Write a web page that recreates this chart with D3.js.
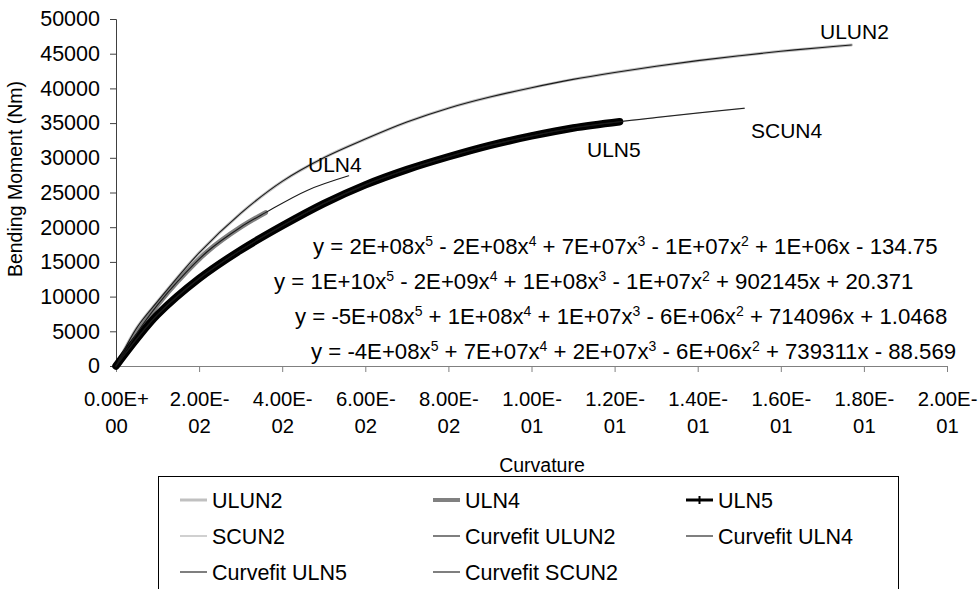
<!DOCTYPE html>
<html>
<head>
<meta charset="utf-8">
<script src="https://cdn.jsdelivr.net/npm/d3@7"></script>
<style>
  body { margin: 0; background: #fff; }
  svg { font-family: "Liberation Sans", Arial, sans-serif; }
</style>
</head>
<body>
<div id="chart"></div>
<script>
//------------------------DATA------------------------//
// [curvature, bending moment]
const ulun2Data = [[0,0],[0.005,5500],[0.01,9300],[0.02,16300],[0.03,22000],[0.04,26600],[0.05,30000],
  [0.06,32700],[0.07,35150],[0.08,37150],[0.09,38750],[0.10,40100],[0.11,41300],[0.12,42300],
  [0.13,43200],[0.14,44000],[0.15,44700],[0.16,45350],[0.17,45900],[0.177,46250]];
const ulun2Fit = ulun2Data;
const uln4Data = [[0,0],[0.005,4700],[0.01,8800],[0.015,12300],[0.022,16500],[0.03,20000],[0.036,22100]];
const uln4Fit = [[0,0],[0.005,4700],[0.01,8800],[0.015,12300],[0.022,16500],[0.03,20000],[0.036,22100],
  [0.046,25300],[0.056,27400]];
const uln5Data = [[0,0],[0.005,3900],[0.01,7400],[0.02,12600],[0.03,16700],[0.04,20200],[0.05,23400],
  [0.06,26100],[0.07,28300],[0.08,30150],[0.09,31800],[0.10,33150],[0.11,34300],[0.1212,35200]];
const uln5Fit = uln5Data;
const scun2Data = uln5Data.concat([[0.13,35800],[0.14,36450],[0.1512,37150]]);
const scun2Fit = scun2Data;

const yTicks = [0,5000,10000,15000,20000,25000,30000,35000,40000,45000,50000];
const xTicks = [0,0.02,0.04,0.06,0.08,0.1,0.12,0.14,0.16,0.18,0.2];
const xTickLabels = ["0.00E+00","2.00E-02","4.00E-02","6.00E-02","8.00E-02","1.00E-01",
  "1.20E-01","1.40E-01","1.60E-01","1.80E-01","2.00E-01"];

const equations = [
  "y = 2E+08x^5 - 2E+08x^4 + 7E+07x^3 - 1E+07x^2 + 1E+06x - 134.75",
  "y = 1E+10x^5 - 2E+09x^4 + 1E+08x^3 - 1E+07x^2 + 902145x + 20.371",
  "y = -5E+08x^5 + 1E+08x^4 + 1E+07x^3 - 6E+06x^2 + 714096x + 1.0468",
  "y = -4E+08x^5 + 7E+07x^4 + 2E+07x^3 - 6E+06x^2 + 739311x - 88.569"
];

const seriesNames = ["ULUN2","ULN4","ULN5","SCUN2","Curvefit ULUN2","Curvefit ULN4","Curvefit ULN5","Curvefit SCUN2"];

//------------------------SVG------------------------//
const width = 979, height = 589;
const svg = d3.select("#chart").append("svg")
  .attr("width", width).attr("height", height);

const x = d3.scaleLinear().domain([0, 0.2]).range([116, 947]);
const y = d3.scaleLinear().domain([0, 50000]).range([366, 19]);

// styles for each series, same order as seriesNames
const styles = [
  {data: ulun2Data, color: "#c0c0c0", w: 3},
  {data: uln4Data,  color: "#808080", w: 5},
  {data: uln5Data,  color: "#000",    w: 7.5, marker: true},
  {data: scun2Data, color: "#c0c0c0", w: 1.5},
  {data: ulun2Fit,  color: "#1a1a1a", w: 1.1},
  {data: uln4Fit,   color: "#1a1a1a", w: 1.1},
  {data: uln5Fit,   color: "#1a1a1a", w: 1.1},
  {data: scun2Fit,  color: "#1a1a1a", w: 1.1}
];
// drawing order: light SCUN2 sits under the thick ULN5 line
const drawOrder = [0, 1, 3, 2, 4, 5, 6, 7];

//------------------------AXES------------------------//
const yAxis = svg.append("g")
  .attr("transform", "translate(116,0)")
  .call(d3.axisLeft(y).tickValues(yTicks).tickSize(6).tickPadding(10).tickFormat(d3.format("d")));
yAxis.select(".domain").attr("stroke", "#404040");
yAxis.selectAll(".tick line").attr("stroke", "#404040");
yAxis.selectAll("text").style("font-size", "21.5px").attr("fill", "#000")
  .attr("font-family", "Liberation Sans, Arial, sans-serif");

const xAxis = svg.append("g")
  .attr("transform", "translate(0,366)")
  .call(d3.axisBottom(x).tickValues(xTicks).tickSize(6).tickSizeOuter(0).tickFormat(""));
xAxis.select(".domain").attr("stroke", "#808080");
xAxis.selectAll(".tick line").attr("stroke", "#808080");

xAxis.selectAll(".tick").each(function(d, i) {
  const t = d3.select(this).append("text")
    .attr("fill", "#000")
    .attr("text-anchor", "middle")
    .style("font-size", "20.3px")
    .attr("font-family", "Liberation Sans, Arial, sans-serif");
  t.append("tspan").attr("x", 0).attr("y", 40).text(xTickLabels[i].slice(0, 6));
  t.append("tspan").attr("x", 0).attr("y", 67).text(xTickLabels[i].slice(6));
});

svg.append("text")
  .attr("x", 542).attr("y", 472)
  .attr("text-anchor", "middle")
  .style("font-size", "19.5px")
  .text("Curvature");

svg.append("text")
  .attr("transform", "translate(22,179) rotate(-90)")
  .attr("text-anchor", "middle")
  .style("font-size", "19.5px")
  .text("Bending Moment (Nm)");

//------------------------LINES------------------------//
const line = d3.line()
  .x(d => x(d[0]))
  .y(d => y(d[1]))
  .curve(d3.curveCatmullRom);

drawOrder.forEach(k => {
  const s = styles[k];
  svg.append("path")
    .attr("d", line(s.data))
    .attr("fill", "none")
    .attr("stroke", s.color)
    .attr("stroke-width", s.w)
    .attr("stroke-linecap", "round")
    .attr("stroke-linejoin", "round");
});

//------------------------LABELS------------------------//
const labels = [
  {t: "ULUN2", x: 820, y: 39},
  {t: "ULN4", x: 308, y: 172},
  {t: "ULN5", x: 587, y: 157},
  {t: "SCUN4", x: 751, y: 138}
];
svg.selectAll(".lbl").data(labels).enter().append("text")
  .attr("x", d => d.x).attr("y", d => d.y)
  .style("font-size", "21px")
  .text(d => d.t);

// equations with superscripts
const eqPos = [[313, 254], [274, 289], [295, 324], [311, 359]];
equations.forEach((eq, i) => {
  const t = svg.append("text")
    .attr("x", eqPos[i][0]).attr("y", eqPos[i][1])
    .style("font-size", "22.2px");
  const parts = eq.split(/\^(\d)/);
  parts.forEach((p, j) => {
    if (j % 2 === 0) {
      t.append("tspan").attr("dy", j === 0 ? 0 : 8).text(p);
    } else {
      t.append("tspan").attr("dy", -8).style("font-size", "14px").text(p);
    }
  });
});

//------------------------LEGEND------------------------//
svg.append("rect")
  .attr("x", 158.5).attr("y", 476.5)
  .attr("width", 740).attr("height", 130)
  .attr("fill", "none")
  .attr("stroke", "#000");

const legCols = [180, 433, 686];
const legRows = [500, 536, 572];
seriesNames.forEach((name, i) => {
  const cx = legCols[i % 3], cy = legRows[Math.floor(i / 3)];
  const s = styles[i];
  const g = svg.append("g");
  g.append("line")
    .attr("x1", cx).attr("x2", cx + 27)
    .attr("y1", cy).attr("y2", cy)
    .attr("stroke", i >= 4 ? "#555" : s.color)
    .attr("stroke-width", s.marker ? 3 : (i >= 4 ? 1.5 : (i === 1 ? 4 : s.w)));
  if (s.marker) {
    g.append("line")
      .attr("x1", cx + 13.5).attr("x2", cx + 13.5)
      .attr("y1", cy - 4).attr("y2", cy + 4)
      .attr("stroke", "#000").attr("stroke-width", 2);
  }
  g.append("text")
    .attr("x", cx + 32).attr("y", cy + 8)
    .style("font-size", "21.5px")
    .text(name);
});
</script>
</body>
</html>
